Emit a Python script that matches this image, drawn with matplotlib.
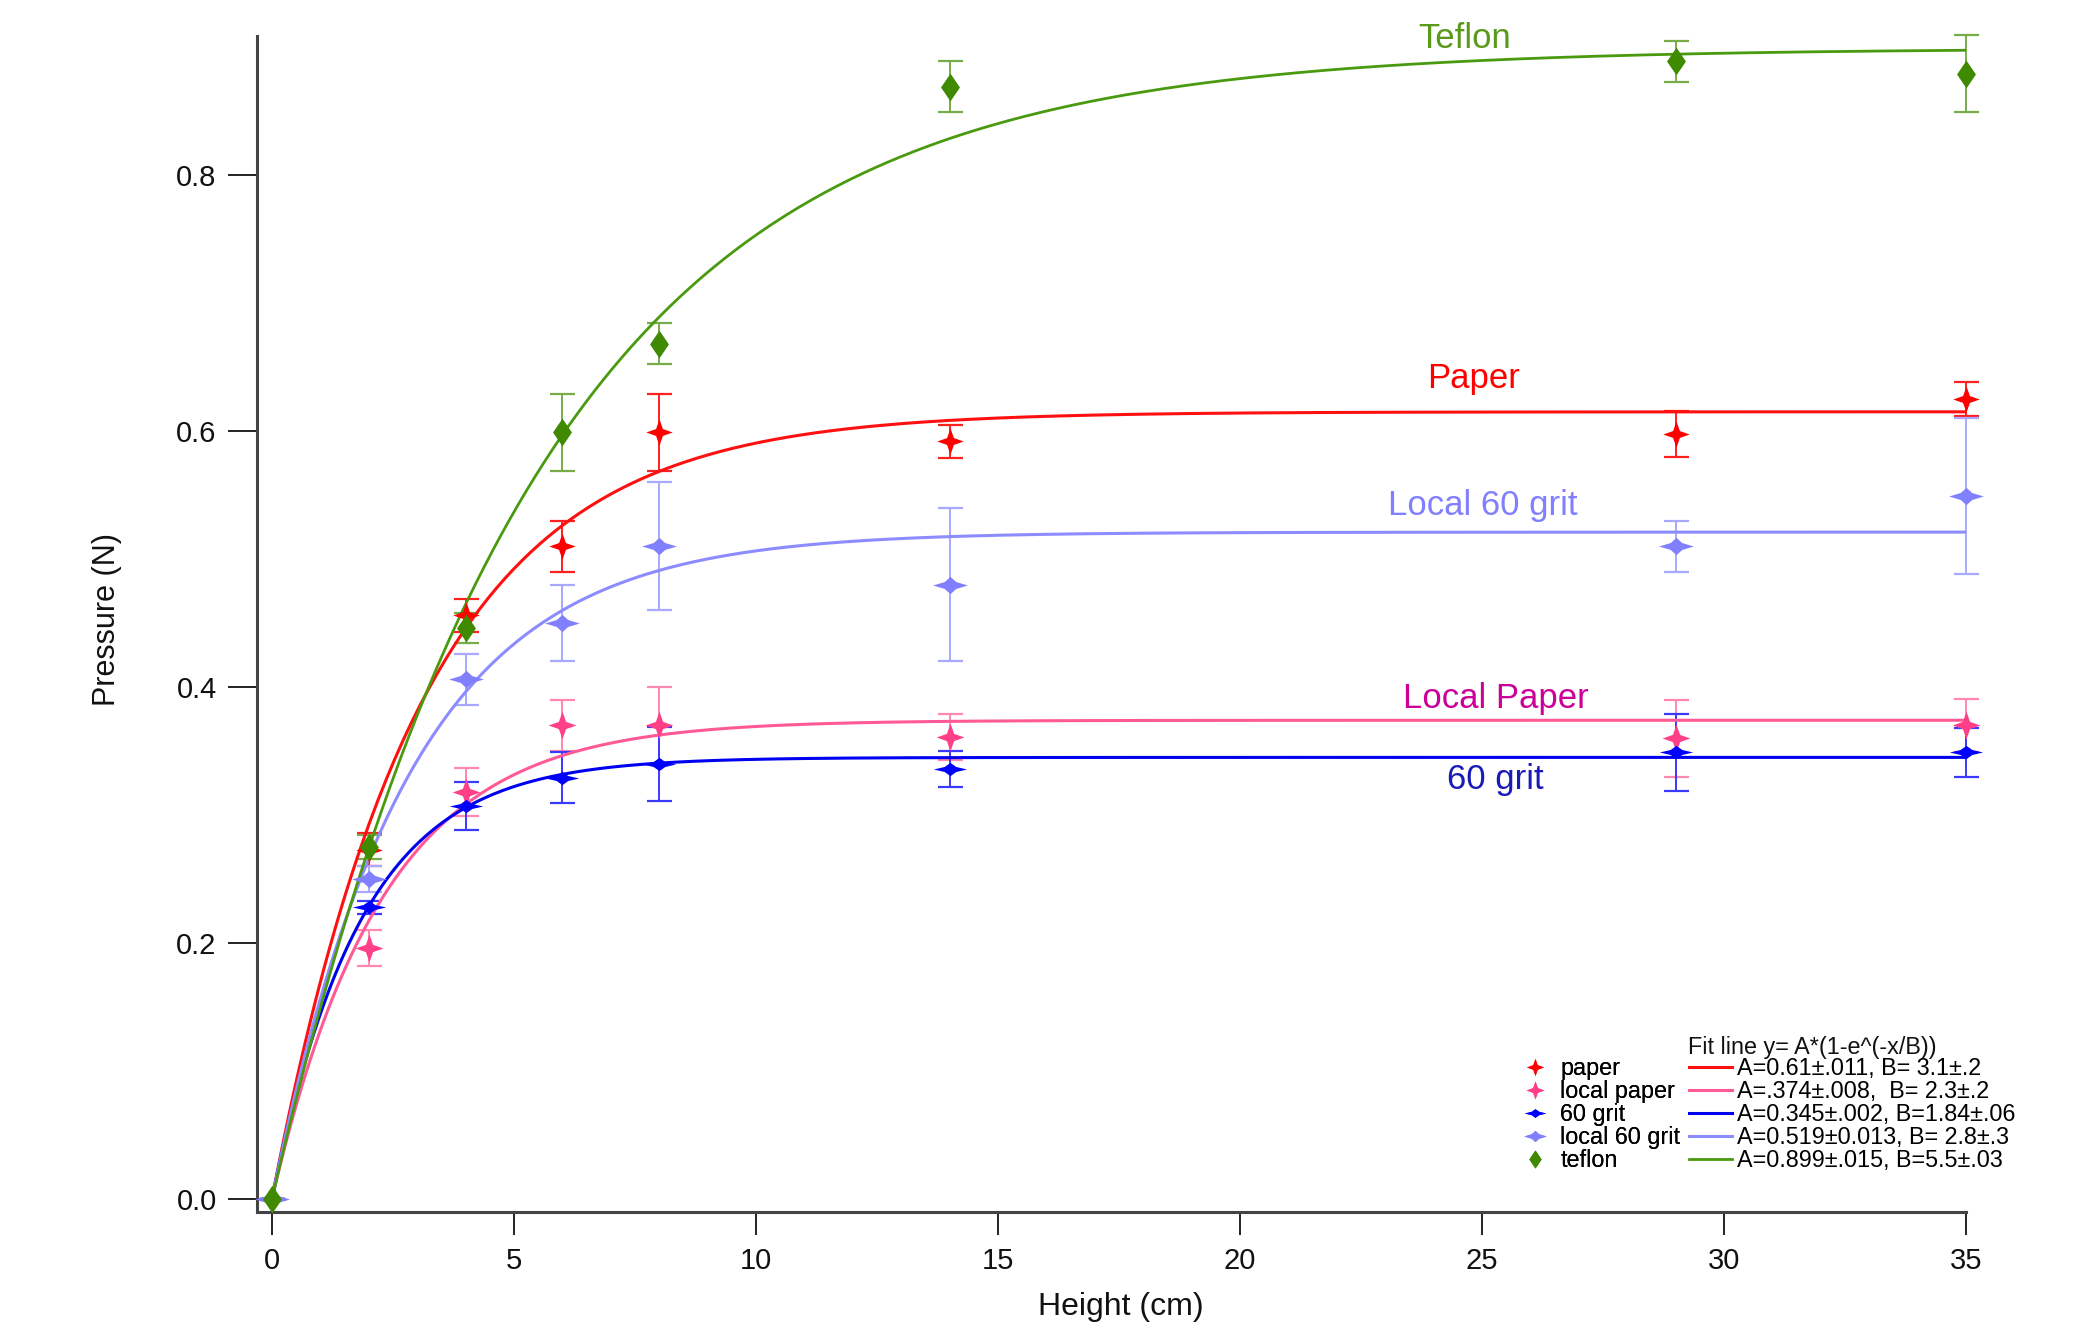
import numpy as np
import matplotlib
matplotlib.use("Agg")
import matplotlib.pyplot as plt
from matplotlib.path import Path
from matplotlib.lines import Line2D

plt.rcParams['font.family'] = ['Liberation Sans', 'DejaVu Sans']

# ---------------- data ----------------
heights = [0, 2, 4, 6, 8, 14, 29, 35]

paper = [0.0, 0.273, 0.456, 0.510, 0.599, 0.592, 0.598, 0.625]
paper_err = [0.0, 0.013, 0.013, 0.020, 0.030, 0.013, 0.018, 0.013]
local_paper = [0.0, 0.196, 0.318, 0.370, 0.370, 0.361, 0.360, 0.370]
local_paper_err = [0.0, 0.014, 0.019, 0.020, 0.030, 0.018, 0.030, 0.021]
grit60 = [0.0, 0.228, 0.307, 0.329, 0.340, 0.336, 0.349, 0.349]
grit60_err = [0.0, 0.005, 0.019, 0.020, 0.029, 0.014, 0.030, 0.019]
local_grit60 = [0.0, 0.250, 0.406, 0.450, 0.510, 0.480, 0.510, 0.549]
local_grit60_err = [0.0, 0.010, 0.020, 0.030, 0.050, 0.060, 0.020, 0.061]
teflon = [0.0, 0.275, 0.446, 0.599, 0.668, 0.869, 0.889, 0.879]
teflon_err = [0.0, 0.009, 0.012, 0.030, 0.016, 0.020, 0.016, 0.030]

series_names = ['paper', 'local paper', '60 grit', 'local 60 grit', 'teflon']
curve_labels = ['Paper', 'Local Paper', '60 grit', 'Local 60 grit', 'Teflon']
fit_A = [0.615, 0.374, 0.345, 0.521, 0.899]
fit_B = [3.1, 2.3, 1.84, 2.8, 5.5]
fit_title = 'Fit line y= A*(1-e^(-x/B))'
fit_text = ['A=0.61\u00b1.011, B= 3.1\u00b1.2',
            'A=.374\u00b1.008,  B= 2.3\u00b1.2',
            'A=0.345\u00b1.002, B=1.84\u00b1.06',
            'A=0.519\u00b10.013, B= 2.8\u00b1.3',
            'A=0.899\u00b1.015, B=5.5\u00b1.03']
label_x = [24.82, 25.28, 25.27, 25.02, 24.63]
label_y = [0.641, 0.391, 0.328, 0.542, 0.907]

values = [paper, local_paper, grit60, local_grit60, teflon]
errors = [paper_err, local_paper_err, grit60_err, local_grit60_err, teflon_err]

# ---------------- styles ----------------
marker_col = ['#ff0000', '#ff4088', '#0000ff', '#8080ff', '#3f8a00']
line_col = ['#ff1010', '#ff5a96', '#0000f0', '#8c8cff', '#4a9a10']
err_col = ['#ff2020', '#ff88b0', '#3a3aff', '#a8a8ff', '#78ac48']
text_col = ['#ff0000', '#cc0099', '#1a1ab8', '#7f7fff', '#5a9a1a']
line_w = [2.2, 2.2, 2.2, 2.2, 2.0]


def mk(verts):
    verts = list(verts) + [verts[0]]
    codes = [Path.MOVETO] + [Path.LINETO] * (len(verts) - 2) + [Path.CLOSEPOLY]
    return Path(verts, codes)

star4 = mk([(0, 1), (0.26, 0.26), (1, 0), (0.26, -0.26), (0, -1), (-0.26, -0.26), (-1, 0), (-0.26, 0.26)])
flat_star = mk([(1, 0), (0.35, 0.15), (0, 0.4), (-0.35, 0.15), (-1, 0), (-0.35, -0.15), (0, -0.4), (0.35, -0.15)])
flat_diam = mk([(1, 0), (0.33, 0.2), (0, 0.5), (-0.33, 0.2), (-1, 0), (-0.33, -0.2), (0, -0.5), (0.33, -0.2)])
tall_diam = mk([(0, 1), (0.68, 0), (0, -1), (-0.68, 0)])
markers = [star4, star4, flat_star, flat_diam, tall_diam]
msizes = [19, 20, 24, 25, 20]

# ---------------- figure ----------------
fig = plt.figure(figsize=(20.74, 13.28), dpi=100)
ax = fig.add_axes([0.1239, 0.0876, 0.8241, 0.8853])

xs = np.linspace(0, 35, 400)
for i in range(5):
    ax.errorbar(heights, values[i], yerr=errors[i], fmt='none', ecolor=err_col[i],
                elinewidth=1.4, capsize=9, capthick=1.6, zorder=2, clip_on=False)
for i in range(5):
    ax.plot(xs, fit_A[i] * (1 - np.exp(-xs / fit_B[i])), color=line_col[i],
            lw=line_w[i], zorder=3)
for i in range(5):
    ax.plot(heights, values[i], linestyle='none', marker=markers[i],
            markersize=msizes[i], color=marker_col[i], markeredgewidth=0,
            zorder=4, clip_on=False)
    ax.text(label_x[i], label_y[i], curve_labels[i], color=text_col[i],
            fontsize=25, ha='center', va='center')

ax.set_xlim(-0.31, 35)
ax.set_ylim(-0.0099, 0.9086)
ax.set_xticks([0, 5, 10, 15, 20, 25, 30, 35])
ax.set_yticks([0.0, 0.2, 0.4, 0.6, 0.8])
ax.set_yticklabels(['0.0', '0.2', '0.4', '0.6', '0.8'])

for s in ['top', 'right']:
    ax.spines[s].set_visible(False)
for s in ['left', 'bottom']:
    ax.spines[s].set_linewidth(2.2)
    ax.spines[s].set_color('#444444')

ax.tick_params(axis='y', length=21, width=1.3, pad=8, labelsize=21, colors='#111111')
ax.tick_params(axis='x', length=16.5, width=1.3, pad=9, labelsize=21, colors='#111111')

ax.set_xlabel('Height (cm)', fontsize=23, color='#111111')
ax.set_ylabel('Pressure (N)', fontsize=22, color='#111111')
ax.xaxis.set_label_coords(0.5055, -0.068)
ax.yaxis.set_label_coords(-0.079, 0.504)

# ---------------- legends ----------------
lfs = 16.8
h1 = [Line2D([], [], linestyle='none', marker=markers[i], markersize=msizes[i] * 0.65,
             color=marker_col[i], markeredgewidth=0) for i in range(5)]
leg1 = fig.legend(h1, series_names, loc='center left', bbox_to_anchor=(0.7343, 0.1604),
                  bbox_transform=fig.transFigure, frameon=False, fontsize=lfs,
                  handlelength=1.0, handletextpad=0.6, labelspacing=0.0,
                  borderpad=0, borderaxespad=0)
h2 = [Line2D([], [], color=line_col[i], lw=line_w[i]) for i in range(5)]
leg2 = fig.legend(h2, fit_text, loc='center left', bbox_to_anchor=(0.8144, 0.1604),
                  bbox_transform=fig.transFigure, frameon=False, fontsize=lfs,
                  handlelength=1.83, handletextpad=0.22, labelspacing=0.0,
                  borderpad=0, borderaxespad=0)
fig.add_artist(leg1)
fig.text(0.8139, 0.2110, fit_title, fontsize=lfs, ha='left', va='center', color='#111111')

fig.savefig('out.png', dpi=100)
